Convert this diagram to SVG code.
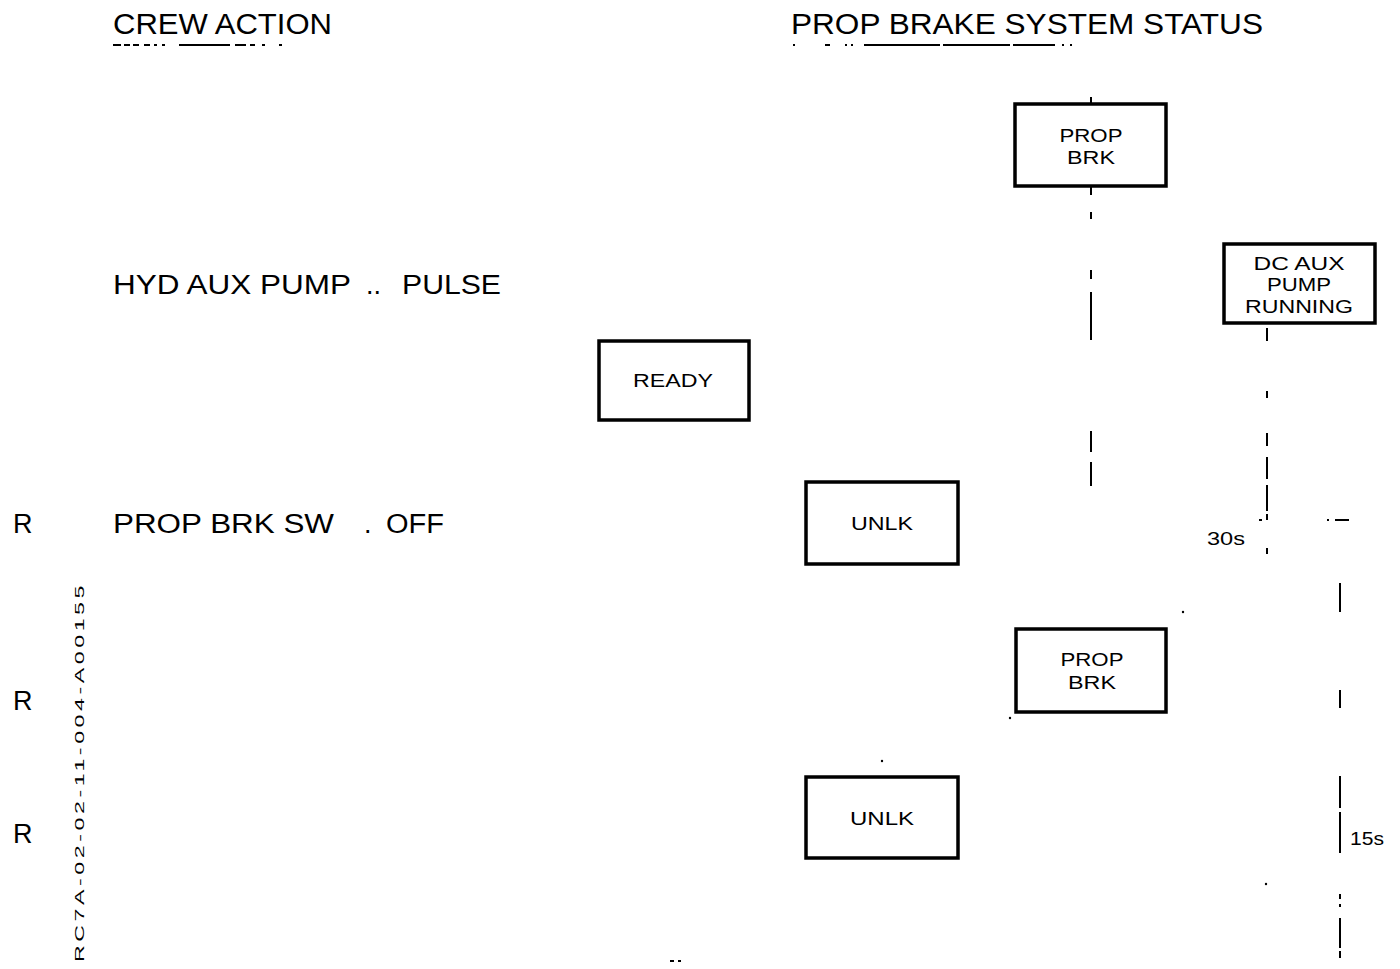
<svg xmlns="http://www.w3.org/2000/svg" width="1400" height="969" viewBox="0 0 1400 969">
<style>
  text { font-family: "Liberation Sans", Arial, sans-serif; fill: #000; }
  .hdr { font-size: 29px; }
  .act { font-size: 27px; }
  .r { font-size: 27px; }
  .box { fill: #fff; stroke: #000; stroke-width: 3.5; }
  .bt { font-size: 19px; text-anchor: middle; }
  .ln { stroke: #000; stroke-width: 2; fill: none; }
  .dot { fill: #000; }
  .tm { font-size: 18px; }
  .side { font-size: 13px; letter-spacing: 2px; }
</style>
<rect width="1400" height="969" fill="#fff"/>

<g id="headers">
  <text class="hdr" x="113" y="34" textLength="219" lengthAdjust="spacingAndGlyphs">CREW ACTION</text>
  <path class="ln" d="M113 45 H121 M124 45 H130 M133 45 H139 M144 45 H150 M154 45 H157 M162 45 H165 M179 45 H230 M235 45 H246 M250 45 H255 M262 45 H265 M279 45 H282" stroke-width="2"/>
  <text class="hdr" x="791" y="34" textLength="472" lengthAdjust="spacingAndGlyphs">PROP BRAKE SYSTEM STATUS</text>
  <path class="ln" d="M793 45 H795 M825 45 H830 M845 45 H847 M851 45 H853 M864 45 H940 M943 45 H1010 M1013 45 H1055 M1062 45 H1064 M1070 45 H1072" stroke-width="2"/>
</g>

<g id="crew-actions">
  <text class="act" x="113" y="294" textLength="238" lengthAdjust="spacingAndGlyphs">HYD AUX PUMP</text>
  <text class="act" x="366" y="294">..</text>
  <text class="act" x="402" y="294" textLength="99" lengthAdjust="spacingAndGlyphs">PULSE</text>
  <text class="act" x="113" y="533" textLength="221" lengthAdjust="spacingAndGlyphs">PROP BRK SW</text>
  <text class="act" x="364" y="533">.</text>
  <text class="act" x="386" y="533" textLength="58" lengthAdjust="spacingAndGlyphs">OFF</text>
  <text class="r" x="13" y="533">R</text>
  <text class="r" x="13" y="710">R</text>
  <text class="r" x="13" y="843">R</text>
</g>

<g id="connectors">
  <path class="ln" d="M1091 97 V103 M1091 186 V195 M1091 212 V219 M1091 270 V279 M1091 292 V340 M1091 431 V452 M1091 462 V486"/>
  <path class="ln" d="M1267 328 V341 M1267 391 V398 M1267 433 V446 M1267 457 V479 M1267 485 V511 M1267 514 V520 M1267 548 V554"/>
  <path class="ln" d="M1259 520 H1262 M1327 520 H1329 M1335 520 H1349"/>
  <path class="ln" d="M1340 583 V612 M1340 690 V708 M1340 776 V808 M1340 812 V853 M1340 894 V899 M1340 904 V907 M1340 918 V948 M1340 951 V958"/>
  <circle class="dot" cx="1183" cy="612" r="1.2"/>
  <circle class="dot" cx="1010" cy="718" r="1.2"/>
  <circle class="dot" cx="882" cy="761" r="1.2"/>
  <circle class="dot" cx="1266" cy="884" r="1.2"/>
  <path class="ln" d="M670 961 H674 M678 961 H681" stroke-width="1.5"/>
</g>

<g id="node-prop-brk-1">
  <rect class="box" x="1015" y="104" width="151" height="82"/>
  <text class="bt" x="1091" y="142" textLength="63" lengthAdjust="spacingAndGlyphs">PROP</text>
  <text class="bt" x="1091" y="164" textLength="48" lengthAdjust="spacingAndGlyphs">BRK</text>
</g>

<g id="node-dc-aux-pump">
  <rect class="box" x="1224" y="244" width="151" height="79"/>
  <text class="bt" x="1299" y="270" textLength="91" lengthAdjust="spacingAndGlyphs">DC AUX</text>
  <text class="bt" x="1299" y="291" textLength="64" lengthAdjust="spacingAndGlyphs">PUMP</text>
  <text class="bt" x="1299" y="313" textLength="108" lengthAdjust="spacingAndGlyphs">RUNNING</text>
</g>

<g id="node-ready">
  <rect class="box" x="599" y="341" width="150" height="79"/>
  <text class="bt" x="673" y="387" textLength="80" lengthAdjust="spacingAndGlyphs">READY</text>
</g>

<g id="node-unlk-1">
  <rect class="box" x="806" y="482" width="152" height="82"/>
  <text class="bt" x="882" y="530" textLength="62" lengthAdjust="spacingAndGlyphs">UNLK</text>
</g>

<g id="node-prop-brk-2">
  <rect class="box" x="1016" y="629" width="150" height="83"/>
  <text class="bt" x="1092" y="666" textLength="63" lengthAdjust="spacingAndGlyphs">PROP</text>
  <text class="bt" x="1092" y="689" textLength="48" lengthAdjust="spacingAndGlyphs">BRK</text>
</g>

<g id="node-unlk-2">
  <rect class="box" x="806" y="777" width="152" height="81"/>
  <text class="bt" x="882" y="825" textLength="64" lengthAdjust="spacingAndGlyphs">UNLK</text>
</g>

<g id="times">
  <text class="tm" x="1207" y="545" textLength="38" lengthAdjust="spacingAndGlyphs">30s</text>
  <text class="tm" x="1350" y="845" textLength="34" lengthAdjust="spacingAndGlyphs">15s</text>
</g>

<text class="side" transform="translate(84 962) rotate(-90)" textLength="380" lengthAdjust="spacingAndGlyphs">RC7A-02-02-11-004-A00155</text>
</svg>
